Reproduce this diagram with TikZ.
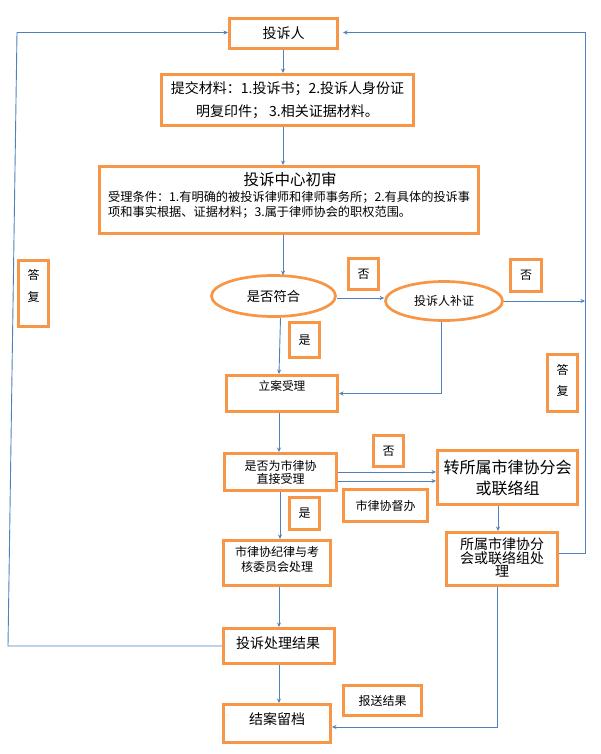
\documentclass[tikz,border=0pt]{standalone}
\usepackage{fontspec}
\setmainfont{Noto Sans CJK SC}
\usetikzlibrary{shapes.geometric,arrows.meta,calc}
\definecolor{orng}{HTML}{F79646}
\definecolor{lblue}{HTML}{4F81BD}
\begin{document}
\begin{tikzpicture}[x=1pt,y=-1pt,
  box/.style={draw=orng,line width=3pt,inner sep=0pt,fill=white,align=center,text=black},
  ell/.style={ellipse,draw=orng,line width=2.7pt,inner sep=0pt,fill=white,text=black},
  conn/.style={draw=lblue,line width=0.9pt},
  arr/.style={conn,-{Stealth[length=4.5pt,width=4pt]}},
  txt/.style={inner sep=0pt,align=center,text=black},
  f12/.style={font=\fontsize{12}{13}\selectfont},
  f14/.style={font=\fontsize{14}{16}\selectfont},
]
\useasboundingbox[fill=white] (0,0) rectangle (601,754);

% boxes
\node[box,f14,minimum width=108pt,minimum height=30pt] (tsr) at (283.5,33.5) {投诉人};
\node[box,minimum width=252pt,minimum height=51pt,font=\fontsize{14}{23}\selectfont] (tj) at (287.5,100)
  {提交材料：1.投诉书；2.投诉人身份证\\明复印件； 3.相关证据材料。};
\node[box,minimum width=379pt,minimum height=67pt] (cs) at (289,200) {};
\node[txt,font=\fontsize{15.5}{17}\selectfont] (cst) at (290,180) {投诉中心初审};
\node[txt,anchor=west,align=left,font=\fontsize{12.2}{15}\selectfont] (csb) at (108,204.5)
  {受理条件：1.有明确的被投诉律师和律师事务所；2.有具体的投诉事\\项和事实根据、证据材料；3.属于律师协会的职权范围。};

\node[ell,minimum width=124pt,minimum height=41pt,font=\fontsize{13.3}{15}\selectfont] (e1) at (273.5,296) {是否符合};
\node[ell,minimum width=117pt,minimum height=39pt,f12] (e2) at (444,301) {投诉人补证};

\node[box,f12,minimum width=30pt,minimum height=31pt] (no1) at (363.5,274) {否};
\node[box,f12,minimum width=31pt,minimum height=32pt] (no2) at (526,275.5) {否};
\node[box,f12,minimum width=30pt,minimum height=35pt] (yes1) at (304.5,340) {是};

\node[box,minimum width=30pt,minimum height=57pt] (repr) at (562.5,383) {};
\node[txt,font=\fontsize{12}{21}\selectfont] (reprt) at (562.5,380.5) {答\\复};
\node[box,minimum width=30pt,minimum height=66pt] (repl) at (33.5,293.5) {};
\node[txt,font=\fontsize{12}{22}\selectfont] (replt) at (33.5,286) {答\\复};

\node[box,minimum width=111pt,minimum height=36pt] (la) at (282,393.5) {};
\node[txt,font=\fontsize{11.7}{13}\selectfont] (lat) at (282,386) {立案受理};

\node[box,f12,minimum width=112pt,minimum height=37pt] (sf) at (280.5,472) {是否为市律协\\直接受理};
\node[box,f12,minimum width=30pt,minimum height=31pt] (no3) at (388.5,451) {否};
\node[box,minimum width=140pt,minimum height=54pt,font=\fontsize{16}{21}\selectfont] (zs) at (507.5,477.5)
  {转所属市律协分会\\或联络组};
\node[box,f12,minimum width=84pt,minimum height=32pt] (db) at (385.5,505.5) {市律协督办};
\node[box,f12,minimum width=30pt,minimum height=32pt] (yes2) at (304.5,513.5) {是};

\node[box,minimum width=107pt,minimum height=45pt] (jl) at (277,563) {};
\node[txt,font=\fontsize{12}{15}\selectfont] (jlt) at (277,559.5) {市律协纪律与考\\核委员会处理};
\node[box,minimum width=111pt,minimum height=53pt] (ss) at (502,559) {};
\node[txt,font=\fontsize{14}{13}\selectfont] (sst) at (502,557) {所属市律协分\\会或联络组处\\理};

\node[box,minimum width=111pt,minimum height=35pt] (jg) at (279,646) {};
\node[txt,f14] (jgt) at (278,643) {投诉处理结果};
\node[box,f12,minimum width=78pt,minimum height=30pt] (bs) at (382.5,700.5) {报送结果};
\node[box,minimum width=107pt,minimum height=38pt] (ja) at (277,723.5) {};
\node[txt,f14] (jat) at (277,719) {结案留档};

% helper corners
\coordinate (R1) at (585,553);
\coordinate (R2) at (585,32.5);
\coordinate (L1) at (8,648);
\coordinate (L2) at (17,32.5);

% connectors
\draw[arr] (tsr.south -| 283,0) -- (tj.north -| 283,0);
\draw[arr] (tj.south -| 283,0) -- (cs.north -| 283,0);
\draw[arr] (cs.south -| 283,0) -- ([yshift=-1pt]e1.north -| 283,0);
\draw[arr] ([xshift=7pt]e1.south) -- ([xshift=-3pt]la.north);
\draw[arr] ([yshift=-2pt]e1.east) -- ([yshift=-2pt]e1.east -| e2.west);
\draw[arr] (e2.east) -- (e2.east -| R1);
\draw[arr] ([xshift=-3pt]e2.south) |- (la.east);
\draw[arr] ([xshift=-3pt]la.south) -- ([xshift=-1.5pt]sf.north);
\draw[arr] (sf.east) -- (sf.east -| zs.west);
\draw[arr] ([yshift=-9pt]sf.east) -- ([yshift=-9pt]sf.east -| zs.west);
\draw[arr] ([xshift=-0.5pt]sf.south) -- ([xshift=3pt]jl.north);
\draw[arr] ([xshift=-9.5pt]zs.south) -- ([xshift=-9.5pt]zs.south |- ss.north);
\draw[arr,shorten >=4pt] ([yshift=6pt]ss.east) -- ([yshift=6pt]ss.east -| R1) -- (R2) -- (R2 -| tsr.east);
\draw[arr] ([xshift=2pt]jl.south) -- (jg.north);
\draw[arr] (jg.west) -- (jg.west -| L1) -- (L2) -- (L2 -| tsr.west);
\draw[arr] (jg.south) -- ([xshift=2pt]ja.north);
\draw[arr] ([xshift=-5pt]ss.south) |- ([yshift=-3.5pt]ja.east);
\end{tikzpicture}
\end{document}
